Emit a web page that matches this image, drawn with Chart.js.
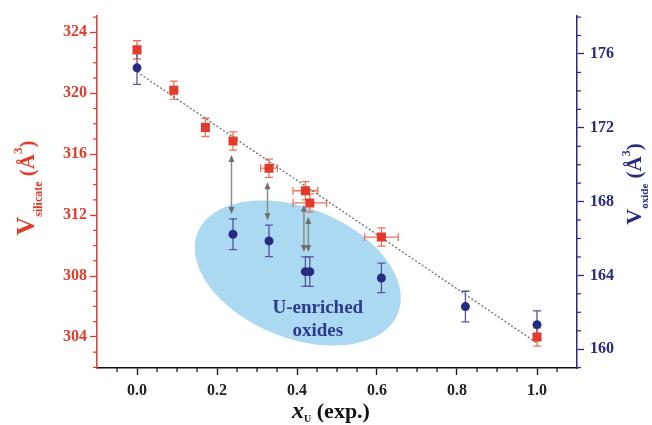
<!DOCTYPE html>
<html>
<head>
<meta charset="utf-8">
<script src="https://cdn.jsdelivr.net/npm/chart.js@4.4.0/dist/chart.umd.min.js"></script>
<style>
    html, body { margin: 0; padding: 0; background: #fff; }
    #wrap { width: 652px; height: 425px; position: relative; }
</style>
</head>
<body>
<div id="wrap"><canvas id="chart"></canvas></div>
<script>
/* =============================
   DATA
============================== */
const xTicks = [0, 0.2, 0.4, 0.6, 0.8, 1.0];
const silTicks = [304, 308, 312, 316, 320, 324];
const oxTicks = [160, 164, 168, 172, 176];

// silicate (left axis, red squares)
const xSil = [0, 0.092, 0.171, 0.24, 0.33, 0.421, 0.432, 0.611, 1.0];
const vSil = [322.85, 320.2, 317.76, 316.87, 315.08, 313.6, 312.8, 310.56, 304.0];
const vSilErr = [0.6, 0.6, 0.6, 0.6, 0.6, 0.6, 0.6, 0.6, 0.6];
const xSilErr = [0, 0, 0, 0, 0.021, 0.031, 0.042, 0.042, 0];

// oxide (right axis, blue circles)
const xOx = [0, 0.24, 0.33, 0.421, 0.432, 0.611, 0.821, 1.0];
const vOx = [175.25, 166.23, 165.87, 164.2, 164.2, 163.86, 162.31, 161.33];
const vOxErr = [0.9, 0.83, 0.85, 0.8, 0.8, 0.8, 0.83, 0.75];

// dotted trend line (left axis)
const fitX = [0, 1.0];
const fitY = [321.4, 303.6];

// arrows: [silicate index, oxide index]
const arrowPairs = [[3, 1], [4, 2], [5, 3], [6, 4]];

// shaded region (centre in data units, left axis)
const blobX = 0.402;
const blobY = 308.2;

const RED = "#e33b2a";
const RED_LIGHT = "#ef7458";
const NAVY = "#262a80";
const NAVY_LIGHT = "#55559c";
const FONT = "'Liberation Serif', 'Times New Roman', serif";

/* =============================
   HELPERS
============================== */
function drawRich(ctx, parts, x, y, rotate) {
    ctx.save();
    ctx.translate(x, y);
    if (rotate) ctx.rotate(-Math.PI / 2);
    let total = 0;
    parts.forEach(p => { ctx.font = p.font; p.w = ctx.measureText(p.text).width; total += p.w; });
    let cx = -total / 2;
    ctx.textAlign = "left";
    ctx.textBaseline = "alphabetic";
    parts.forEach(p => {
        ctx.font = p.font;
        ctx.fillStyle = p.color;
        ctx.fillText(p.text, cx, p.dy || 0);
        cx += p.w;
    });
    ctx.restore();
}

function arrowHead(ctx, x, y, dir) {
    ctx.beginPath();
    ctx.moveTo(x, y);
    ctx.lineTo(x - 3, y - dir * 7);
    ctx.lineTo(x + 3, y - dir * 7);
    ctx.closePath();
    ctx.fill();
}

/* =============================
   EXTRAS PLUGIN
============================== */
const extras = {
    id: "extras",
    beforeDatasetsDraw(chart) {
        const ctx = chart.ctx;
        const sx = chart.scales.x, sy = chart.scales.y, sy1 = chart.scales.y1;

        // shaded ellipse
        const ex = sx.getPixelForValue(blobX);
        const ey = sy.getPixelForValue(blobY);
        ctx.save();
        ctx.fillStyle = "#abd9f1";
        ctx.beginPath();
        ctx.ellipse(ex, ey, 108, 65, 22 * Math.PI / 180, 0, Math.PI * 2);
        ctx.fill();

        ctx.fillStyle = "#2e3a8e";
        ctx.font = "bold 19px " + FONT;
        ctx.textAlign = "center";
        ctx.textBaseline = "middle";
        ctx.fillText("U-enriched", ex + 20, ey + 35);
        ctx.fillText("oxides", ex + 20, ey + 58);
        ctx.restore();

        // arrows
        ctx.save();
        ctx.strokeStyle = "#8c8c8c";
        ctx.fillStyle = "#6e6e6e";
        ctx.lineWidth = 1.5;
        arrowPairs.forEach(([i, j]) => {
            const px = sx.getPixelForValue(xSil[i]) - 1.5;
            const top = sy.getPixelForValue(vSil[i] - vSilErr[i]) + 5;
            const bot = sy1.getPixelForValue(vOx[j] + vOxErr[j]) - 5;
            ctx.beginPath();
            ctx.moveTo(px, top + 5);
            ctx.lineTo(px, bot - 5);
            ctx.stroke();
            arrowHead(ctx, px, top, -1);
            arrowHead(ctx, px, bot, 1);
        });
        ctx.restore();

        // error bars
        ctx.save();
        ctx.lineWidth = 1.3;
        ctx.strokeStyle = RED_LIGHT;
        xSil.forEach((xv, i) => {
            const px = sx.getPixelForValue(xv);
            const py = sy.getPixelForValue(vSil[i]);
            const t = sy.getPixelForValue(vSil[i] + vSilErr[i]);
            const b = sy.getPixelForValue(vSil[i] - vSilErr[i]);
            ctx.beginPath();
            ctx.moveTo(px, t); ctx.lineTo(px, b);
            ctx.moveTo(px - 4, t); ctx.lineTo(px + 4, t);
            ctx.moveTo(px - 4, b); ctx.lineTo(px + 4, b);
            if (xSilErr[i] > 0) {
                const l = sx.getPixelForValue(xv - xSilErr[i]);
                const r = sx.getPixelForValue(xv + xSilErr[i]);
                ctx.moveTo(l, py); ctx.lineTo(r, py);
                ctx.moveTo(l, py - 4); ctx.lineTo(l, py + 4);
                ctx.moveTo(r, py - 4); ctx.lineTo(r, py + 4);
            }
            ctx.stroke();
        });
        ctx.strokeStyle = NAVY_LIGHT;
        xOx.forEach((xv, i) => {
            const px = sx.getPixelForValue(xv);
            const t = sy1.getPixelForValue(vOx[i] + vOxErr[i]);
            const b = sy1.getPixelForValue(vOx[i] - vOxErr[i]);
            ctx.beginPath();
            ctx.moveTo(px, t); ctx.lineTo(px, b);
            ctx.moveTo(px - 4, t); ctx.lineTo(px + 4, t);
            ctx.moveTo(px - 4, b); ctx.lineTo(px + 4, b);
            ctx.stroke();
        });
        ctx.restore();
    },
    afterDraw(chart) {
        const ctx = chart.ctx;
        const sx = chart.scales.x, sy = chart.scales.y, sy1 = chart.scales.y1;
        const a = chart.chartArea;

        // minor ticks
        ctx.save();
        ctx.lineWidth = 1.2;
        ctx.strokeStyle = RED;
        for (let v = 302; v <= 325; v++) {
            if (v % 4 === 0) continue;
            const p = sy.getPixelForValue(v);
            ctx.beginPath(); ctx.moveTo(a.left, p); ctx.lineTo(a.left - 4, p); ctx.stroke();
        }
        ctx.strokeStyle = NAVY;
        for (let v = 159; v <= 178; v++) {
            if (v % 4 === 0) continue;
            const p = sy1.getPixelForValue(v);
            ctx.beginPath(); ctx.moveTo(a.right, p); ctx.lineTo(a.right + 4, p); ctx.stroke();
        }
        ctx.strokeStyle = "#111";
        for (let k = -1; k <= 21; k++) {
            if (k % 4 === 0) continue;
            const p = sx.getPixelForValue(k * 0.05);
            ctx.beginPath(); ctx.moveTo(p, a.bottom); ctx.lineTo(p, a.bottom + 4); ctx.stroke();
        }
        ctx.restore();

        // axis titles
        drawRich(ctx, [
            { text: "V", font: "bold 26px " + FONT, color: RED },
            { text: "silicate", font: "bold 12px " + FONT, color: RED, dy: 8 },
            { text: " (Å", font: "bold 21px " + FONT, color: RED },
            { text: "3", font: "bold 13px " + FONT, color: RED, dy: -12 },
            { text: ")", font: "bold 21px " + FONT, color: RED }
        ], 34, 188, true);

        drawRich(ctx, [
            { text: "V", font: "bold 22px " + FONT, color: NAVY },
            { text: "oxide", font: "bold 11px " + FONT, color: NAVY, dy: 7 },
            { text: " (Å", font: "bold 21px " + FONT, color: NAVY },
            { text: "3", font: "bold 12px " + FONT, color: NAVY, dy: -11 },
            { text: ")", font: "bold 21px " + FONT, color: NAVY }
        ], 641, 184, true);

        drawRich(ctx, [
            { text: "x", font: "italic bold 24px " + FONT, color: "#111" },
            { text: "U", font: "bold 10px " + FONT, color: "#111", dy: 4 },
            { text: " (exp.)", font: "bold 22px " + FONT, color: "#111" }
        ], 331, 418, false);
    }
};

/* =============================
   CHART
============================== */
const tickFont = { family: FONT, size: 16, weight: "bold" };

new Chart(document.getElementById("chart"), {
    type: "scatter",
    data: {
        datasets: [
            {
                data: xSil.map((x, i) => ({ x, y: vSil[i] })),
                yAxisID: "y",
                pointStyle: "rect",
                pointRadius: 6.4,
                backgroundColor: RED,
                borderColor: RED,
                borderWidth: 0
            },
            {
                data: xOx.map((x, i) => ({ x, y: vOx[i] })),
                yAxisID: "y1",
                pointStyle: "circle",
                pointRadius: 4.5,
                backgroundColor: NAVY,
                borderColor: NAVY,
                borderWidth: 0
            },
            {
                data: fitX.map((x, i) => ({ x, y: fitY[i] })),
                yAxisID: "y",
                showLine: true,
                pointRadius: 0,
                borderColor: "#6f6f6f",
                borderWidth: 1.3,
                borderDash: [2, 2]
            }
        ]
    },
    options: {
        responsive: true,
        maintainAspectRatio: false,
        animation: false,
        layout: { padding: { top: 13, left: 0, right: 0, bottom: 0 } },
        plugins: {
            legend: { display: false },
            tooltip: { enabled: false }
        },
        scales: {
            x: {
                type: "linear",
                min: -0.1,
                max: 1.1,
                afterBuildTicks: s => { s.ticks = xTicks.map(v => ({ value: v })); },
                afterFit: s => { s.height = 57; },
                ticks: {
                    font: tickFont,
                    color: "#222",
                    padding: 6,
                    callback: v => v.toFixed(1)
                },
                grid: { drawOnChartArea: false, tickLength: 7, tickColor: "#111", tickWidth: 1.3 },
                border: { color: "#111", width: 1.5 }
            },
            y: {
                position: "left",
                min: 301.96,
                max: 325.1,
                afterBuildTicks: s => { s.ticks = silTicks.map(v => ({ value: v })); },
                afterFit: s => { s.width = 97; },
                ticks: { font: tickFont, color: RED, padding: 3 },
                grid: { drawOnChartArea: false, tickLength: 7, tickColor: RED, tickWidth: 1.3 },
                border: { color: RED, width: 1.5 }
            },
            y1: {
                position: "right",
                min: 158.98,
                max: 178.08,
                afterBuildTicks: s => { s.ticks = oxTicks.map(v => ({ value: v })); },
                afterFit: s => { s.width = 75; },
                ticks: { font: tickFont, color: NAVY, padding: 6 },
                grid: { drawOnChartArea: false, tickLength: 7, tickColor: NAVY, tickWidth: 1.3 },
                border: { color: NAVY, width: 1.5 }
            }
        }
    },
    plugins: [extras]
});
</script>
</body>
</html>
